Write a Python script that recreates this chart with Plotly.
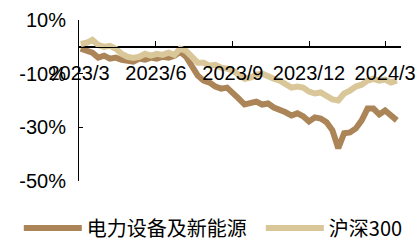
import pandas as pd
import plotly.graph_objects as go

dates = pd.date_range("2023-03-03", periods=55, freq="7D")

power_new_energy = [
    -0.7, -1.5, -2.2, -4.0, -3.3, -4.4, -4.0, -4.8, -5.2, -5.5,
    -4.4, -4.8, -4.0, -4.4, -3.7, -4.0, -3.3, -1.9, -3.7, -7.4,
    -10.7, -12.6, -13.3, -14.8, -15.6, -15.2, -17.0, -19.3, -21.5, -20.7,
    -20.4, -21.5, -21.1, -22.6, -23.3, -24.4, -25.6, -24.8, -25.9, -27.8,
    -26.3, -26.7, -28.1, -31.1, -37.8, -32.2, -31.9, -30.4, -27.4, -23.0,
    -23.0, -25.2, -23.7, -25.9, -27.4,
]
hs300 = [
    1.1, 1.5, 2.6, 0.7, 0.0, 0.4, -0.7, -2.6, -3.7, -4.1,
    -3.7, -2.6, -3.3, -2.6, -3.0, -2.2, -3.0, -0.7, -1.5, -4.1,
    -5.9, -5.9, -7.0, -6.7, -7.8, -8.1, -8.9, -10.4, -11.9, -11.5,
    -10.4, -10.0, -11.1, -11.9, -12.6, -13.7, -15.2, -14.8, -15.2, -16.7,
    -17.4, -17.0, -18.5, -19.6, -20.0, -17.4, -16.3, -14.8, -14.1, -12.6,
    -11.9, -12.6, -12.2, -13.3, -12.6,
]

series_names = ["电力设备及新能源", "沪深300"]
series_colors = ["#AB8558", "#D9C79A"]
legend_ids = ["legend", "legend2"]

tick_dates = ["2023-03-01", "2023-06-01", "2023-09-01", "2023-12-01", "2024-03-01"]
tick_labels = ["2023/3", "2023/6", "2023/9", "2023/12", "2024/3"]
y_ticks = [10, -10, -30, -50]
y_labels = ["10%", "-10%", "-30%", "-50%"]

fig = go.Figure()
for name, vals, col, lg in zip(series_names, [power_new_energy, hs300], series_colors, legend_ids):
    fig.add_trace(go.Scatter(x=dates, y=vals, name=name, mode="lines", legend=lg,
                             line=dict(color=col, width=6)))

font_main = "Liberation Sans, Arial, Noto Sans CJK SC, sans-serif"
legend_font = dict(family="Noto Sans CJK SC, Liberation Sans, sans-serif", size=20)
fig.update_layout(
    width=418, height=240,
    margin=dict(l=79, r=17, t=20, b=59, autoexpand=False),
    paper_bgcolor="white", plot_bgcolor="white",
    font=dict(family=font_main, size=20, color="black"),
    showlegend=True,
    legend=dict(orientation="h", xref="container", x=0.045, xanchor="left",
                yref="container", y=0.05, yanchor="middle",
                font=legend_font, itemwidth=58),
    legend2=dict(orientation="h", xref="container", x=0.624, xanchor="left",
                 yref="container", y=0.05, yanchor="middle",
                 font=legend_font, itemwidth=58),
    xaxis=dict(
        type="date", range=["2023-03-01", "2024-03-20"],
        tickvals=tick_dates, ticktext=tick_labels,
        showgrid=False, zeroline=False,
        showline=True, linecolor="black", linewidth=1,
        ticks="inside", ticklen=6, tickcolor="black",
        anchor="free", position=50/60,
        ticklabelstandoff=8,
        tickfont=dict(size=20),
    ),
    yaxis=dict(
        range=[-50, 10], tickvals=y_ticks, ticktext=y_labels,
        showgrid=False, zeroline=True, zerolinecolor="black", zerolinewidth=1,
        showline=True, linecolor="black", linewidth=1,
        ticks="inside", ticklen=4, tickcolor="black",
        ticklabelstandoff=8,
        tickfont=dict(size=20),
    ),
)

fig.write_html("out.html", config={"displayModeBar": False},
               post_script="document.body.style.margin='0';")
